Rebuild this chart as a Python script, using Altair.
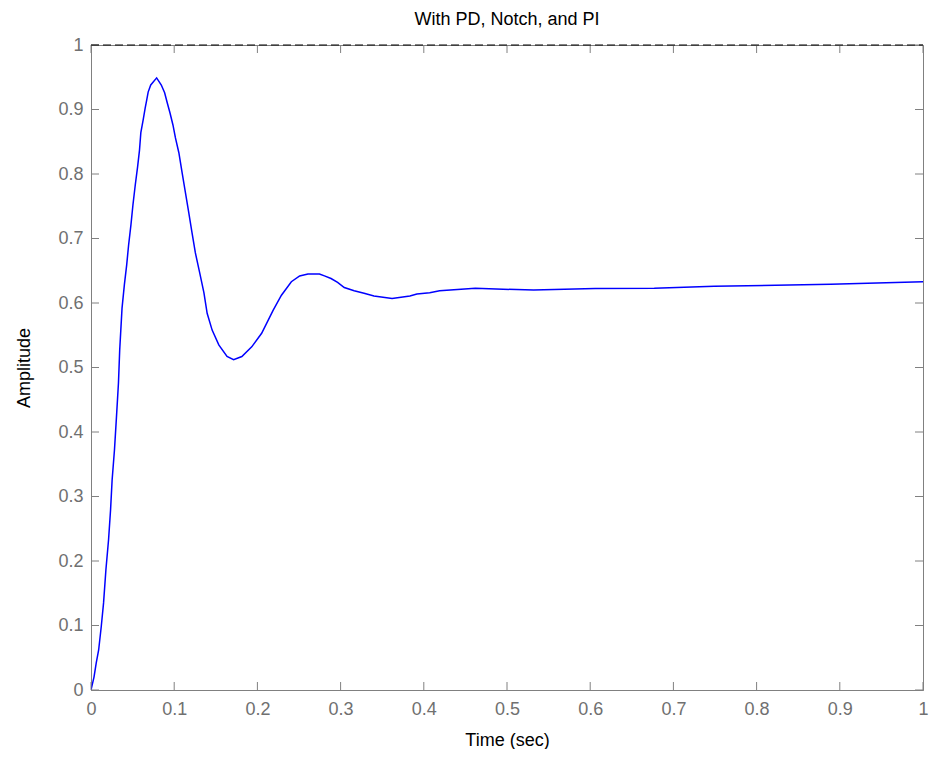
import altair as alt
import pandas as pd

# Step response
time_s = [0, 0.0036, 0.0063, 0.0092, 0.0123, 0.0151, 0.0179, 0.0211, 0.0235, 0.0254,
          0.0282, 0.0306, 0.0330, 0.0345, 0.0373, 0.0401, 0.0429, 0.0452, 0.0480, 0.0504,
          0.0532, 0.0560, 0.0583, 0.0599, 0.0627, 0.0651, 0.0670, 0.0687, 0.0718, 0.0789,
          0.0845, 0.0885, 0.0917, 0.0949, 0.0985, 0.1015, 0.1056, 0.1095, 0.1135, 0.1175,
          0.1214, 0.1254, 0.1306, 0.1357, 0.1396, 0.1456, 0.1536, 0.1635, 0.1714, 0.1813,
          0.1932, 0.2051, 0.2190, 0.2289, 0.2408, 0.2508, 0.2607, 0.2746, 0.2806, 0.2885,
          0.2964, 0.3044, 0.3163, 0.3282, 0.3401, 0.3619, 0.3833, 0.3917, 0.4071, 0.4190,
          0.4619, 0.532, 0.606, 0.677, 0.749, 0.889, 1.0]
amplitude = [0, 0.020, 0.042, 0.062, 0.098, 0.135, 0.186, 0.233, 0.279, 0.326,
             0.372, 0.423, 0.476, 0.527, 0.592, 0.628, 0.659, 0.690, 0.721, 0.752,
             0.783, 0.811, 0.837, 0.864, 0.884, 0.902, 0.915, 0.927, 0.938, 0.949,
             0.938, 0.926, 0.910, 0.895, 0.876, 0.856, 0.833, 0.802, 0.771, 0.740,
             0.709, 0.678, 0.647, 0.616, 0.584, 0.558, 0.535, 0.517, 0.512, 0.517,
             0.532, 0.553, 0.589, 0.612, 0.633, 0.642, 0.645, 0.645, 0.642, 0.638,
             0.632, 0.624, 0.619, 0.615, 0.611, 0.607, 0.611, 0.614, 0.616, 0.619,
             0.6227, 0.620, 0.6225, 0.623, 0.626, 0.629, 0.633]

tick_values = [0, 0.1, 0.2, 0.3, 0.4, 0.5, 0.6, 0.7, 0.8, 0.9, 1]
reference_level = [1]

W, H = 832, 645
GRAY = "#808080"
FONT = "Liberation Sans"
TICK = 8

curve = pd.DataFrame({"t": time_s, "y": amplitude})
ticks_df = pd.DataFrame({"v": tick_values})
ref_df = pd.DataFrame({"r": reference_level})

xs = alt.Scale(domain=[0, 1], nice=False, zero=False)
ys = alt.Scale(domain=[0, 1], nice=False, zero=False)

x_axis = alt.Axis(values=tick_values, format="~g", ticks=False, grid=False,
                  domainColor=GRAY, domainWidth=1, labelColor="#707070", labelFont=FONT,
                  labelFontSize=18, labelPadding=10, labelFlush=False, labelOverlap=False,
                  title="Time (sec)", titleFont=FONT, titleFontSize=18,
                  titleFontWeight="normal", titleColor="black", titlePadding=13)
y_axis = alt.Axis(values=tick_values, format="~g", ticks=False, grid=False,
                  domainColor=GRAY, domainWidth=1, labelColor="#707070", labelFont=FONT,
                  labelFontSize=18, labelPadding=8, labelFlush=False, labelOverlap=False,
                  title="Amplitude", titleFont=FONT, titleFontSize=18,
                  titleFontWeight="normal", titleColor="black", titlePadding=24)

line = alt.Chart(curve).mark_line(color="#0000FF", strokeWidth=1.5, clip=True).encode(
    x=alt.X("t:Q", scale=xs, axis=x_axis),
    y=alt.Y("y:Q", scale=ys, axis=y_axis),
)

ref = alt.Chart(ref_df).mark_rule(color="black", strokeWidth=1, strokeDash=[8, 4]).encode(
    y=alt.Y("r:Q", scale=ys, axis=y_axis),
    x=alt.value(0), x2=alt.value(W),
)

tick_bottom = alt.Chart(ticks_df).mark_rule(color=GRAY, strokeWidth=1).encode(
    x=alt.X("v:Q", scale=xs, axis=x_axis), y=alt.value(H), y2=alt.value(H - TICK))
tick_top = alt.Chart(ticks_df).mark_rule(color=GRAY, strokeWidth=1).encode(
    x=alt.X("v:Q", scale=xs, axis=x_axis), y=alt.value(0), y2=alt.value(TICK))
tick_left = alt.Chart(ticks_df).mark_rule(color=GRAY, strokeWidth=1).encode(
    y=alt.Y("v:Q", scale=ys, axis=y_axis), x=alt.value(0), x2=alt.value(TICK))
tick_right = alt.Chart(ticks_df).mark_rule(color=GRAY, strokeWidth=1).encode(
    y=alt.Y("v:Q", scale=ys, axis=y_axis), x=alt.value(W), x2=alt.value(W - TICK))

chart = alt.layer(line, tick_bottom, tick_top, tick_left, tick_right, ref).properties(
    width=W, height=H,
    title=alt.Title("With PD, Notch, and PI", font=FONT, fontSize=18,
                    fontWeight="normal", color="black", anchor="middle", offset=7),
    autosize=alt.AutoSizeParams(type="none"),
    padding={"left": 83, "top": 37, "right": 6, "bottom": 59},
).configure_view(stroke=GRAY, strokeWidth=1)

chart.save("out.html", embed_options={"renderer": "svg", "actions": False})
